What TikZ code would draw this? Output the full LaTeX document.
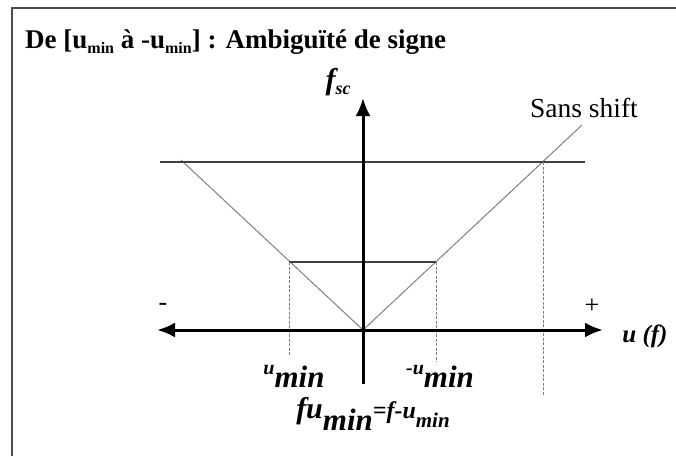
\documentclass[tikz,border=0pt]{standalone}
\usepackage{fontspec}
\setmainfont{Liberation Serif}
\usetikzlibrary{arrows.meta}
\newcommand{\fsz}[1]{\fontsize{#1}{#1}\selectfont}
\newcommand{\umin}[1]{{\fsz{20}\raisebox{13pt}{#1u}}{\fsz{31}min}}
\newcommand{\tsub}{\raisebox{-5pt}{\fsz{16}min}}
\begin{document}
\begin{tikzpicture}[x=1pt,y=-1pt,
  >={Latex[length=18pt,width=15pt]},
  axis/.style={line width=3pt},
  darkline/.style={line width=1.1pt, draw=black!75},
  vline/.style={line width=1pt, draw=black!50},
  guide/.style={line width=0.9pt, draw=black!50, dash pattern=on 3pt off 1.5pt},
  lbl/.style={inner sep=0pt, font=\bfseries\itshape},
  txt/.style={inner sep=0pt}
]
\useasboundingbox (0,0) rectangle (676,456);
\fill[white] (0,0) rectangle (676,456);
\draw[line width=2pt, black!70] (12,456) -- (12,8) -- (676,8);

% coordinates
\coordinate (O) at (363,330);
\coordinate (L) at (157,330);
\coordinate (R) at (603,330);
\coordinate (T) at (363,98);
\coordinate (B) at (363,384);
\coordinate (VL) at (181,160);
\coordinate (VR) at (582,125);
\coordinate (HL) at (160,162);
\coordinate (HR) at (585,162);
\coordinate (ML) at (289,262);
\coordinate (MR) at (436,262);
\coordinate (P) at (543,162);
\coordinate (ML0) at (289,355);
\coordinate (MR0) at (436,362);
\coordinate (P0) at (543,395);

% lines
\draw[vline] (VL) -- (O) -- (VR);
\draw[darkline] (HL) -- (HR);
\draw[darkline] (ML) -- (MR);
\draw[guide] (ML) -- (ML0);
\draw[guide] (MR) -- (MR0);
\draw[guide] (P) -- (P0);
\draw[axis, <->] (L) -- (R);
\draw[axis, ->] (B) -- (T);

% texts
\node[txt, anchor=base west, font=\bfseries\fsz{27}] (title) at (25,48)
  {De [u\tsub{} à -u\tsub] : Ambiguïté de signe};
\node[lbl, anchor=base] (fsc) at (338,89) {{\fsz{30}f}\raisebox{-5pt}{\fsz{18}sc}};
\node[txt, anchor=base, font=\fsz{27.5}] (sans) at (584,117) {Sans shift};
\node[txt, font=\fsz{26}] (minus) at (163,307) {-};
\node[txt, font=\fsz{26}] (plus) at (592,306) {+};
\node[lbl, anchor=base, font=\bfseries\itshape\fsz{25}] (uf) at (645,342) {u (f)};
\node[lbl, anchor=base] (um) at (294,387) {\umin{}};
\node[lbl, anchor=base] (mum) at (440,387) {\umin{-}};
\node[lbl, anchor=base] (eq) at (373,418) {{\fsz{30}fu}\raisebox{-12pt}{\fsz{31}min}{\fsz{24}=f-u}\raisebox{-9pt}{\fsz{21}min}};
\end{tikzpicture}
\end{document}
